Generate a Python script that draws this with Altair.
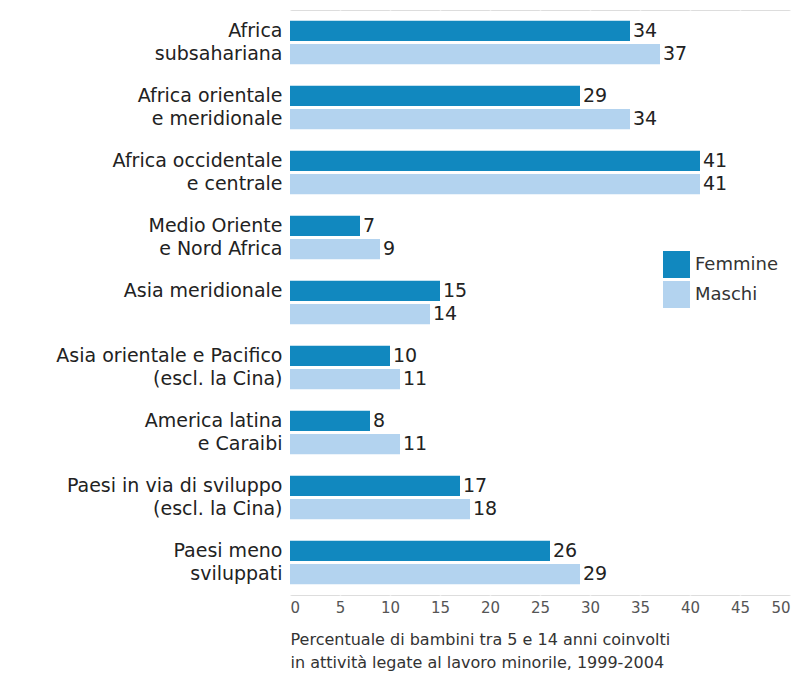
import altair as alt
import pandas as pd

categories = [
    "Africa|subsahariana",
    "Africa orientale|e meridionale",
    "Africa occidentale|e centrale",
    "Medio Oriente|e Nord Africa",
    "Asia meridionale",
    "Asia orientale e Pacifico|(escl. la Cina)",
    "America latina|e Caraibi",
    "Paesi in via di sviluppo|(escl. la Cina)",
    "Paesi meno|sviluppati",
]
femmine = [34, 29, 41, 7, 15, 10, 8, 17, 26]
maschi = [37, 34, 41, 9, 14, 11, 11, 18, 29]
series = ["Femmine", "Maschi"]
colors = ["#1188bf", "#b3d3ef"]
x_title = [
    "Percentuale di bambini tra 5 e 14 anni coinvolti",
    "in attività legate al lavoro minorile, 1999-2004",
]

rows = []
for c, f, m in zip(categories, femmine, maschi):
    rows.append({"cat": c, "serie": "Femmine", "val": f})
    rows.append({"cat": c, "serie": "Maschi", "val": m})
df = pd.DataFrame(rows)

FONT = "DejaVu Sans"

y_enc = alt.Y(
    "cat:N",
    sort=categories,
    scale=alt.Scale(paddingInner=0.33, paddingOuter=0.165),
    axis=alt.Axis(
        title=None,
        labelExpr="split(datum.label, '|')",
        labelFontSize=19,
        labelLineHeight=23,
        labelOffset=-11.5,
        labelColor="#222222",
        labelPadding=8,
        ticks=False,
        domain=False,
        labelFont=FONT,
        labelLimit=300,
    ),
)
yoff = alt.YOffset("serie:N", sort=series, scale=alt.Scale(paddingInner=0.12))
x_enc = alt.X(
    "val:Q",
    scale=alt.Scale(domain=[0, 50], nice=False),
    axis=alt.Axis(
        values=list(range(0, 55, 5)),
        title=x_title,
        titleAnchor="start",
        titleAlign="left",
        titleFontSize=16,
        titleFontWeight="normal",
        titleColor="#333333",
        titlePadding=16,
        titleLineHeight=23,
        titleFont=FONT,
        labelFontSize=15,
        labelColor="#555555",
        labelPadding=5,
        labelFont=FONT,
        ticks=False,
        domain=False,
        grid=True,
        gridColor="#ffffff",
        gridWidth=1.5,
    ),
)

bars = alt.Chart(df).mark_bar().encode(
    y=y_enc,
    yOffset=yoff,
    x=x_enc,
    color=alt.Color(
        "serie:N",
        scale=alt.Scale(domain=series, range=colors),
        legend=alt.Legend(
            title=None,
            orient="none",
            legendX=373,
            legendY=241,
            symbolType="square",
            symbolSize=729,
            symbolStrokeWidth=0,
            symbolOpacity=1,
            labelFontSize=18,
            labelFont=FONT,
            labelColor="#333333",
            labelOffset=5,
            rowPadding=3,
        ),
    ),
)

labels = alt.Chart(df).mark_text(
    align="left", baseline="middle", dx=3, fontSize=19, font=FONT, color="#222222"
).encode(
    y=alt.Y("cat:N", sort=categories),
    yOffset=alt.YOffset("serie:N", sort=series),
    x="val:Q",
    text="val:Q",
)

chart = (
    alt.layer(bars, labels)
    .properties(
        width=500,
        height=585,
        autosize=alt.AutoSizeParams(type="none"),
        padding={"left": 282, "top": 2, "right": 2, "bottom": 77},
    )
    .configure_view(fill="#eeeeee", stroke=None)
    .configure(background="#ffffff")
)

chart.save("out.html", embed_options={"renderer": "svg", "actions": False})
